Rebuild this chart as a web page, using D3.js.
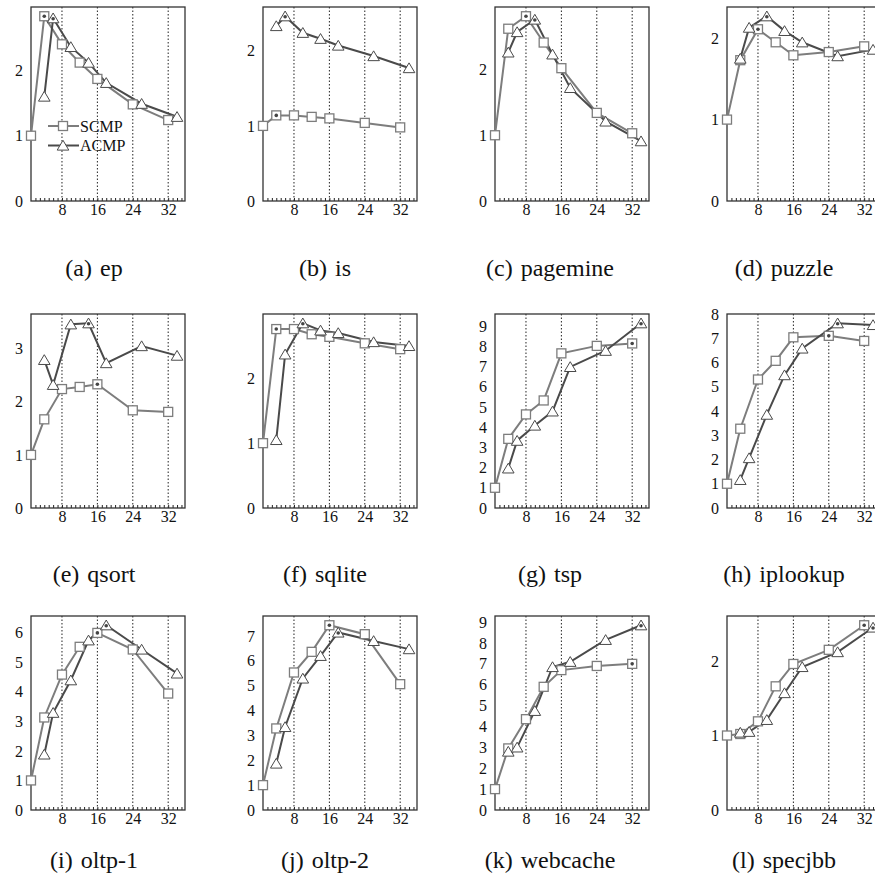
<!DOCTYPE html>
<html>
<head>
<meta charset="utf-8">
<script src="https://cdn.jsdelivr.net/npm/d3@7"></script>
<style>
  body { margin: 0; background: #fff; overflow: hidden; }
</style>
</head>
<body>
<div id="chart"></div>
<script>
// core counts on the x axis
var scmpCores = [1, 4, 8, 12, 16, 24, 32];
var acmpCores = [4, 6, 10, 14, 18, 26, 34];
var xTicks = [8, 16, 24, 32];

var benchmarks = ["(a) ep", "(b) is", "(c) pagemine", "(d) puzzle",
                  "(e) qsort", "(f) sqlite", "(g) tsp", "(h) iplookup",
                  "(i) oltp-1", "(j) oltp-2", "(k) webcache", "(l) specjbb"];

var seriesNames = ["SCMP", "ACMP"];

// speedup, one row per benchmark
var scmpSpeedup = [
    [1.0, 2.83, 2.40, 2.12, 1.87, 1.48, 1.24],   // ep
    [1.0, 1.14, 1.14, 1.12, 1.10, 1.04, 0.98],   // is
    [1.0, 2.62, 2.81, 2.41, 2.02, 1.34, 1.03],   // pagemine
    [1.0, 1.73, 2.11, 1.95, 1.79, 1.83, 1.90],   // puzzle
    [1.0, 1.67, 2.24, 2.28, 2.33, 1.84, 1.81],   // qsort
    [1.0, 2.76, 2.76, 2.68, 2.64, 2.54, 2.45],   // sqlite
    [1.0, 3.42, 4.63, 5.32, 7.65, 8.02, 8.14],   // tsp
    [1.0, 3.27, 5.30, 6.07, 7.04, 7.10, 6.89],   // iplookup
    [1.0, 3.13, 4.58, 5.52, 5.99, 5.43, 3.94],   // oltp-1
    [1.0, 3.28, 5.53, 6.36, 7.43, 7.07, 5.06],   // oltp-2
    [1.0, 2.95, 4.35, 5.90, 6.70, 6.90, 7.00],   // webcache
    [1.0, 1.02, 1.19, 1.66, 1.96, 2.15, 2.48]    // specjbb
];

var acmpSpeedup = [
    [1.60, 2.80, 2.36, 2.12, 1.81, 1.49, 1.29],  // ep
    [2.33, 2.46, 2.24, 2.16, 2.07, 1.93, 1.77],  // is
    [2.26, 2.57, 2.76, 2.23, 1.72, 1.21, 0.91],  // pagemine
    [1.75, 2.13, 2.27, 2.09, 1.95, 1.78, 1.86],  // puzzle
    [2.79, 2.32, 3.46, 3.48, 2.73, 3.05, 2.87],  // qsort
    [1.05, 2.37, 2.85, 2.74, 2.70, 2.56, 2.50],  // sqlite
    [1.96, 3.33, 4.08, 4.78, 6.98, 7.78, 9.14],  // tsp
    [1.16, 2.06, 3.85, 5.48, 6.58, 7.62, 7.55],  // iplookup
    [1.88, 3.29, 4.39, 5.74, 6.25, 5.43, 4.62],  // oltp-1
    [1.87, 3.34, 5.29, 6.20, 7.14, 6.80, 6.47],  // oltp-2
    [2.80, 3.00, 4.75, 6.85, 7.10, 8.15, 8.85],  // webcache
    [1.04, 1.05, 1.21, 1.57, 1.92, 2.12, 2.45]   // specjbb
];

function init() {
    var W = 875, H = 895;
    var pw = 154, ph = 194;
    var colX = [31, 263, 495, 727];
    var rowY = [7, 314, 616];
    var captionX = [94, 325, 550, 784];
    var captionY = [276, 582, 868];
    var font = "Liberation Serif";
    var scmpColor = "#7d7d7d", acmpColor = "#4a4a4a";
    var triPath = "M0,-5.2L5.8,4.6L-5.8,4.6Z";

    var svg = d3.select("#chart")
        .append("svg")
        .attr("width", W)
        .attr("height", H)
        .attr("font-family", font);

    var x = d3.scaleLinear().domain([1, 35.8]).range([0, pw]);

    benchmarks.forEach(function(name, k) {
        var col = k % 4, row = Math.floor(k / 4);
        var scmp = scmpCores.map(function(c, i) { return {x: c, y: scmpSpeedup[k][i]}; });
        var acmp = acmpCores.map(function(c, i) { return {x: c, y: acmpSpeedup[k][i]}; });
        var ymax = d3.max(scmp.concat(acmp), function(d) { return d.y; }) * 1.05;
        var y = d3.scaleLinear().domain([0, ymax]).range([ph, 0]);

        var g = svg.append("g")
            .attr("transform", "translate(" + colX[col] + "," + rowY[row] + ")");

        // dotted verticals at major ticks
        g.selectAll("line.grid")
            .data(xTicks)
            .enter()
            .append("line")
            .attr("class", "grid")
            .attr("x1", function(d) { return x(d); })
            .attr("x2", function(d) { return x(d); })
            .attr("y1", 0)
            .attr("y2", ph)
            .attr("stroke", "#222")
            .attr("stroke-width", 1)
            .attr("stroke-dasharray", "1.5,2");

        // minor ticks every core
        var minor = g.append("g")
            .attr("transform", "translate(0," + ph + ")")
            .call(d3.axisBottom(x).tickValues(d3.range(2, 36)).tickSize(-3).tickFormat(""));
        minor.select(".domain").remove();
        minor.selectAll("line").attr("stroke", "#222");

        var xa = g.append("g")
            .attr("transform", "translate(0," + ph + ")")
            .call(d3.axisBottom(x).tickValues(xTicks).tickSize(0).tickPadding(3));
        xa.select(".domain").remove();
        xa.selectAll("text")
            .attr("font-family", font)
            .attr("font-size", 16)
            .attr("fill", "#111");

        var ya = g.append("g")
            .call(d3.axisLeft(y).tickValues(d3.range(0, Math.floor(ymax) + 1)).tickSize(0).tickPadding(8).tickFormat(d3.format("d")));
        ya.select(".domain").remove();
        ya.selectAll("text")
            .attr("font-family", font)
            .attr("font-size", 16)
            .attr("fill", "#111");

        g.append("rect")
            .attr("width", pw)
            .attr("height", ph)
            .attr("fill", "none")
            .attr("stroke", "#333")
            .attr("stroke-width", 1.3);

        var line = d3.line()
            .x(function(d) { return x(d.x); })
            .y(function(d) { return y(d.y); });

        g.append("path").datum(scmp).attr("d", line)
            .attr("fill", "none").attr("stroke", scmpColor).attr("stroke-width", 2);
        g.append("path").datum(acmp).attr("d", line)
            .attr("fill", "none").attr("stroke", acmpColor).attr("stroke-width", 2);

        g.selectAll("rect.sq")
            .data(scmp)
            .enter()
            .append("rect")
            .attr("class", "sq")
            .attr("x", function(d) { return x(d.x) - 4.5; })
            .attr("y", function(d) { return y(d.y) - 4.5; })
            .attr("width", 9)
            .attr("height", 9)
            .attr("fill", "#fff")
            .attr("stroke", scmpColor)
            .attr("stroke-width", 1.3);

        g.selectAll("path.tri")
            .data(acmp)
            .enter()
            .append("path")
            .attr("class", "tri")
            .attr("d", triPath)
            .attr("transform", function(d) { return "translate(" + x(d.x) + "," + y(d.y) + ")"; })
            .attr("fill", "#fff")
            .attr("stroke", acmpColor)
            .attr("stroke-width", 1);

        // dot on each series' best point
        [scmp, acmp].forEach(function(s) {
            var best = s[d3.maxIndex(s, function(d) { return d.y; })];
            g.append("circle")
                .attr("cx", x(best.x))
                .attr("cy", y(best.y) + (s === acmp ? 0.5 : 0))
                .attr("r", 1.8)
                .attr("fill", "#444");
        });

        svg.append("text")
            .attr("x", captionX[col])
            .attr("y", captionY[row])
            .attr("text-anchor", "middle")
            .attr("font-family", font)
            .attr("font-size", 24)
            .attr("word-spacing", 2)
            .attr("fill", "#111")
            .text(name);

        if (k === 0) {
            var leg = g.append("g");
            seriesNames.forEach(function(s, i) {
                var ly = 119 + i * 19.5;
                var c = i === 0 ? scmpColor : acmpColor;
                leg.append("line")
                    .attr("x1", 17).attr("x2", 48)
                    .attr("y1", ly).attr("y2", ly)
                    .attr("stroke", c).attr("stroke-width", 2);
                if (i === 0) {
                    leg.append("rect")
                        .attr("x", 32 - 4.5).attr("y", ly - 4.5)
                        .attr("width", 9).attr("height", 9)
                        .attr("fill", "#fff").attr("stroke", c).attr("stroke-width", 1.3);
                } else {
                    leg.append("path")
                        .attr("d", triPath)
                        .attr("transform", "translate(32," + ly + ")")
                        .attr("fill", "#fff").attr("stroke", c).attr("stroke-width", 1);
                }
                leg.append("text")
                    .attr("x", 49)
                    .attr("y", ly + 5.5)
                    .attr("font-family", font)
                    .attr("font-size", 16)
                    .attr("fill", "#111")
                    .text(s);
            });
        }
    });
}

window.onload = init;
</script>
</body>
</html>
